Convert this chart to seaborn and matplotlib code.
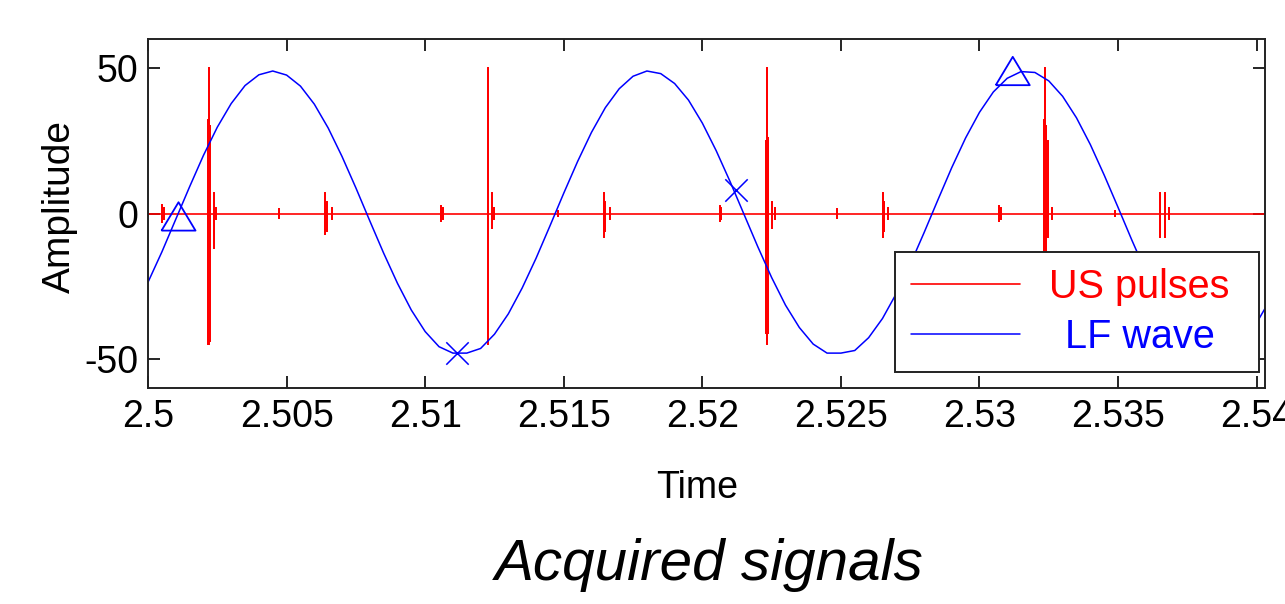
import numpy as np
import matplotlib
matplotlib.use("Agg")
import matplotlib.pyplot as plt
import seaborn as sns

# LF wave, sampled every 0.5 ms starting at t = 2.5
lf_start = 2.5
lf_step = 0.0005
lf_amp = [-23.6, -13.2, -2.0, 9.2, 20.0, 29.7, 37.8, 44.0, 47.7, 49.0,
          47.6, 43.8, 37.6, 29.4, 19.6, 8.8, -2.5, -13.6, -24.0, -33.2,
          -40.6, -45.8, -48.0, -48.0, -46.4, -41.5, -34.5, -25.6, -15.4, -4.3,
          7.0, 17.9, 27.9, 36.4, 42.9, 47.2, 49.0, 48.1, 44.7, 39.0,
          31.1, 21.6, 11.0, -0.2, -11.4, -22.0, -31.5, -39.2, -44.9, -48.0,
          -48.0, -47.1, -42.7, -36.1, -27.5, -17.5, -6.6, 4.7, 15.8, 26.0,
          34.8, 41.8, 46.5, 48.8, 48.5, 45.6, 40.3, 32.9, 23.7, 13.2,
          2.1, -9.2, -20.0, -29.7, -37.8, -44.0, -47.7, -48.0, -47.6, -43.8,
          -37.6, -29.4]

# US pulse events: time, positive peak, negative peak
us_time = [2.50052, 2.50057, 2.50218, 2.50221, 2.50224, 2.50237, 2.50244,
           2.50473, 2.50640, 2.50644, 2.50662,
           2.51058, 2.51063, 2.51225, 2.51228, 2.51242, 2.51248,
           2.51480, 2.51645, 2.51648, 2.51666,
           2.52062, 2.52068, 2.52231, 2.52234, 2.52237, 2.52251, 2.52262,
           2.52485, 2.52651, 2.52655, 2.52670,
           2.53072, 2.53077, 2.53234, 2.53237, 2.53240, 2.53249, 2.53261,
           2.53490, 2.53653, 2.53668, 2.53682]
us_peak = [3.0, 2.0, 32.0, 50.0, 30.0, 7.0, 2.0,
           1.5, 7.0, 4.0, 2.0,
           2.5, 2.0, 50.0, 49.0, 7.0, 2.0,
           1.0, 7.0, 4.0, 2.0,
           2.5, 2.0, 25.0, 50.0, 26.0, 4.0, 2.0,
           1.5, 7.0, 4.0, 2.0,
           2.5, 2.0, 32.0, 50.0, 30.0, 25.0, 2.0,
           1.0, 7.0, 7.0, 2.0]
us_trough = [-3.0, -2.0, -45.0, -45.0, -44.0, -12.0, -2.0,
             -1.5, -7.0, -6.0, -2.0,
             -2.5, -2.0, -45.0, -44.0, -5.0, -2.0,
             -1.0, -8.0, -6.0, -2.0,
             -2.5, -2.0, -41.0, -45.0, -41.0, -5.0, -2.0,
             -1.5, -8.0, -6.0, -2.0,
             -2.5, -2.0, -45.0, -45.0, -40.0, -8.0, -2.0,
             -1.0, -8.0, -8.0, -2.0]

# marked points on the LF wave
tri_time = [2.5011, 2.5312]
tri_amp = [-1.0, 49.0]
cross_time = [2.51116, 2.52122]
cross_amp = [-48.0, 8.0]

x_ticks = [2.5, 2.505, 2.51, 2.515, 2.52, 2.525, 2.53, 2.535, 2.54]
x_labels = ["2.5", "2.505", "2.51", "2.515", "2.52", "2.525", "2.53", "2.535", "2.54"]
y_ticks = [-50, 0, 50]

lf_time = lf_start + lf_step * np.arange(len(lf_amp))

# build the red trace: flat baseline with vertical bursts
red_t = [lf_time[0]]
red_y = [0.0]
for t, hi, lo in zip(us_time, us_peak, us_trough):
    red_t += [t, t, t, t]
    red_y += [0.0, hi, lo, 0.0]
red_t.append(lf_time[-1])
red_y.append(0.0)

sns.set_theme(style="ticks")
plt.rcParams['font.family'] = ['Liberation Sans', 'DejaVu Sans']
plt.rcParams['axes.unicode_minus'] = False

fig = plt.figure(figsize=(12.85, 6.04), dpi=100)
ax = fig.add_axes([0.1152, 0.3576, 0.8692, 0.5778])

sns.lineplot(x=red_t, y=red_y, sort=False, estimator=None, color="red",
             linewidth=1.2, label="US pulses", legend=False, ax=ax)
sns.lineplot(x=lf_time, y=lf_amp, sort=False, estimator=None, color="blue",
             linewidth=1.1, label="LF wave", legend=False, ax=ax)

tri_marker = [(-1.2, -1.0), (1.2, -1.0), (0.0, 1.0), (-1.2, -1.0)]
sns.scatterplot(x=tri_time, y=tri_amp, marker=tri_marker, s=600,
                facecolor="none", edgecolor="blue", linewidth=1.3,
                legend=False, ax=ax, zorder=4)
sns.scatterplot(x=cross_time, y=cross_amp, marker="x", s=260, color="blue",
                linewidth=1.1, legend=False, ax=ax, zorder=4)

ax.set_xlim(2.5, 2.5403)
ax.set_ylim(-60, 60)
ax.set_xticks(x_ticks)
ax.set_xticklabels(x_labels)
ax.set_yticks(y_ticks)
ax.tick_params(direction="in", length=8.5, width=1.2, top=True, right=True,
               labelsize=27, colors="black")
ax.tick_params(axis="x", pad=8)
ax.tick_params(axis="y", pad=7)
for sp in ax.spines.values():
    sp.set_visible(True)
    sp.set_color("#222222")
    sp.set_linewidth(1.4)

ax.set_xlabel("Time", fontsize=27, color="black")
ax.xaxis.set_label_coords(0.4915, -0.235)
ax.set_ylabel("Amplitude", fontsize=28, color="black")
ax.yaxis.label.set_va("center")
ax.yaxis.set_label_coords(-0.079, 0.52)

leg = ax.legend(handles=ax.lines[:2], labels=["US pulses", "LF wave"],
                loc="upper left", bbox_to_anchor=(0.6688, 0.0, 0.3259, 0.3905),
                mode="expand", borderaxespad=0, fontsize=28.5,
                handlelength=2.75, handletextpad=0.75, borderpad=0.4,
                labelspacing=0.32, fancybox=False, framealpha=1)
leg.get_frame().set_edgecolor("#222222")
leg.get_frame().set_linewidth(1.4)
for txt, col in zip(leg.get_texts(), ["red", "blue"]):
    txt.set_color(col)
leg.get_texts()[1].set_x(16)

fig.text(0.552, 0.064, "Acquired signals", fontsize=42, style="italic",
         ha="center", va="center", color="black")

fig.savefig("out.png", dpi=100)
